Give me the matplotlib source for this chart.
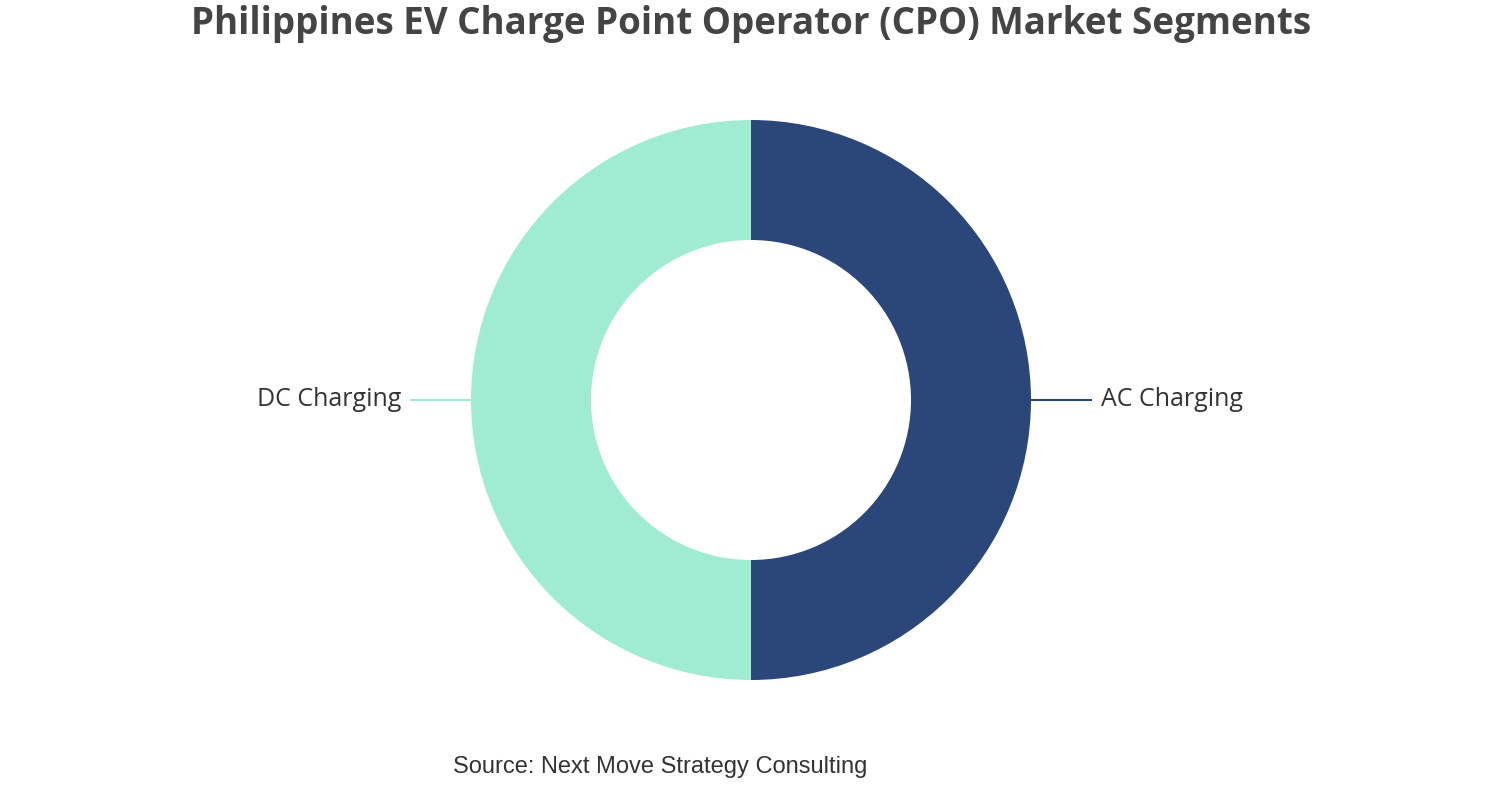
import numpy as np
import matplotlib
matplotlib.use('Agg')
import matplotlib.pyplot as plt

# chart data
segments = ['AC Charging', 'DC Charging']
shares = [50, 50]
colors = ['#2b4779', '#a0ecd2']

title = 'Philippines EV Charge Point Operator (CPO) Market Segments'
source = 'Source: Next Move Strategy Consulting'

W, H = 1502, 800
fig = plt.figure(figsize=(W / 100, H / 100), dpi=100)
ax = fig.add_axes([0, 0, 1, 1])

cx, cy, r = 751, 400, 280
wedges, _ = ax.pie(shares, colors=colors, startangle=90, counterclock=False,
                   radius=r, center=(cx, cy),
                   wedgeprops=dict(width=120, linewidth=0))

for w, name, col in zip(wedges, segments, colors):
    ang = np.deg2rad((w.theta1 + w.theta2) / 2)
    x0 = cx + r * np.cos(ang)
    y0 = cy + r * np.sin(ang)
    side = 1 if np.cos(ang) >= 0 else -1
    x1 = x0 + side * 60
    ax.plot([x0, x1], [y0, y0], color=col, lw=1.5)
    ax.text(x1 + side * 10, y0, name, ha='left' if side > 0 else 'right',
            va='center', fontsize=18, color='#333333', family='Open Sans')

ax.set_xlim(0, W)
ax.set_ylim(0, H)
ax.set_aspect('equal')
ax.axis('off')

fig.text(0.5, 1 - 24 / H, title, ha='center', va='center', fontsize=26.5,
         fontweight='bold', color='#444444', family='Open Sans')
fig.text(660.5 / W, 1 - 767 / H, source, ha='center', va='center', fontsize=17,
         color='#333333', family='Liberation Sans')

fig.savefig('out.png', dpi=100)
